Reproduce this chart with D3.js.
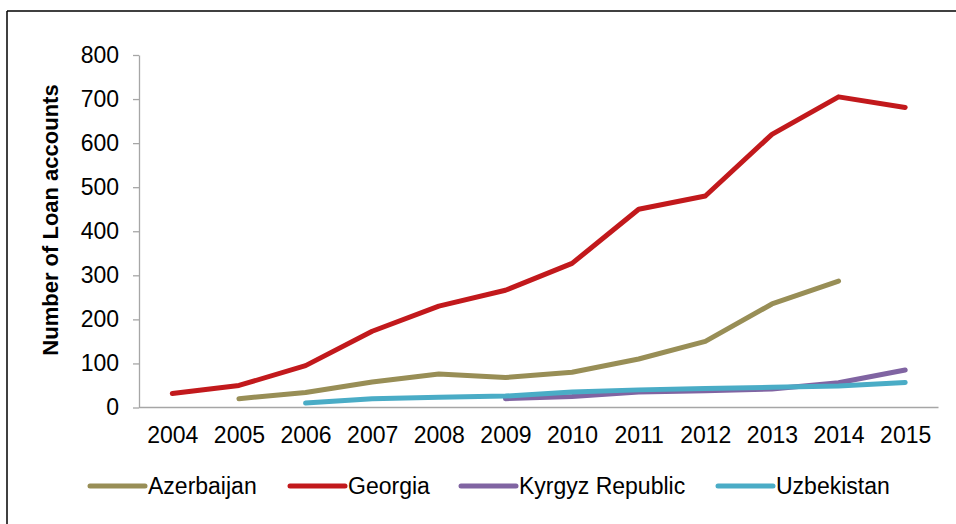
<!DOCTYPE html>
<html>
<head>
<meta charset="utf-8">
<script src="https://cdn.jsdelivr.net/npm/d3@7"></script>
<style>
    body { margin: 0; background: #fff; }
    svg { display: block; font-family: 'Liberation Sans', Arial, sans-serif; }
</style>
</head>
<body>
<svg id="chartSVG" width="956" height="524"></svg>
<script>

var years = ['2004', '2005', '2006', '2007', '2008', '2009', '2010', '2011', '2012', '2013', '2014', '2015'];

var azerbaijan = [null, 20, 34, 58, 76, 68, 80, 110, 150, 235, 287, null];
var georgia = [32, 50, 95, 173, 230, 266, 327, 450, 480, 620, 705, 681];
var kyrgyz = [null, null, null, null, null, 20, 25, 35, 38, 42, 56, 85];
var uzbekistan = [null, null, 10, 20, 23, 26, 35, 40, 43, 46, 49, 57];

var seriesNames = ['Azerbaijan', 'Georgia', 'Kyrgyz Republic', 'Uzbekistan'];
var seriesColors = ['#988e56', '#c2191c', '#8064a2', '#4aacc6'];
var yTicks = [0, 100, 200, 300, 400, 500, 600, 700, 800];

var series = [azerbaijan, georgia, kyrgyz, uzbekistan];

var properties = {
    left: 139,
    right: 938.5,
    top: 55,
    bottom: 407.5
};

var svg = d3.select('#chartSVG');

// frame lines (only top and left are visible)
svg.append('line')
    .attr('x1', 7).attr('y1', 11).attr('x2', 956).attr('y2', 11)
    .attr('stroke', '#000').attr('stroke-width', 1.5);
svg.append('line')
    .attr('x1', 7).attr('y1', 11).attr('x2', 7).attr('y2', 524)
    .attr('stroke', '#000').attr('stroke-width', 1.5);

var x = d3.scalePoint()
    .domain(years)
    .range([properties.left, properties.right])
    .padding(0.5);

var y = d3.scaleLinear()
    .domain([0, 800])
    .range([properties.bottom, properties.top]);

// y axis
var yAxis = svg.append('g')
    .attr('transform', 'translate(' + properties.left + ',0)')
    .call(d3.axisLeft(y).tickValues(yTicks).tickSize(6).tickPadding(14).tickSizeOuter(0));

yAxis.select('.domain').attr('stroke', '#a6a6a6').attr('stroke-width', 1.3);
yAxis.selectAll('.tick line').attr('stroke', '#a6a6a6').attr('stroke-width', 1.3);
yAxis.selectAll('.tick text')
    .attr('font-size', 23)
    .attr('fill', '#000')
    .attr('font-family', "'Liberation Sans', Arial, sans-serif");

// x axis
var xAxis = svg.append('g')
    .attr('transform', 'translate(0,' + properties.bottom + ')')
    .call(d3.axisBottom(x).tickSize(0).tickPadding(19).tickSizeOuter(0));

xAxis.select('.domain').remove();
xAxis.append('line')
    .attr('x1', properties.left)
    .attr('x2', properties.right)
    .attr('stroke', '#a6a6a6')
    .attr('stroke-width', 1.3);
xAxis.selectAll('.tick text')
    .attr('font-size', 23)
    .attr('fill', '#000')
    .attr('font-family', "'Liberation Sans', Arial, sans-serif");

// y axis title
svg.append('text')
    .attr('transform', 'translate(58,220) rotate(-90)')
    .attr('text-anchor', 'middle')
    .attr('font-size', 22)
    .attr('font-weight', 'bold')
    .text('Number of Loan accounts');

var line = d3.line()
    .defined(function(d) { return d !== null; })
    .x(function(d, i) { return x(years[i]); })
    .y(function(d) { return y(d); });

svg.selectAll('.serie')
    .data(series)
    .enter()
    .append('path')
        .attr('class', 'serie')
        .attr('fill', 'none')
        .attr('stroke', function(d, i) { return seriesColors[i]; })
        .attr('stroke-width', 5)
        .attr('stroke-linecap', 'round')
        .attr('stroke-linejoin', 'round')
        .attr('d', line);

// legend
var legendX = [90, 290, 461, 718];
var legend = svg.selectAll('.legend')
    .data(seriesNames)
    .enter()
    .append('g')
        .attr('class', 'legend')
        .attr('transform', function(d, i) { return 'translate(' + legendX[i] + ',486)'; });

legend.append('line')
    .attr('x1', 0)
    .attr('x2', 55)
    .attr('stroke', function(d, i) { return seriesColors[i]; })
    .attr('stroke-width', 5)
    .attr('stroke-linecap', 'round');

legend.append('text')
    .attr('x', 58)
    .attr('y', 8)
    .attr('font-size', 23)
    .text(function(d) { return d; });

</script>
</body>
</html>
